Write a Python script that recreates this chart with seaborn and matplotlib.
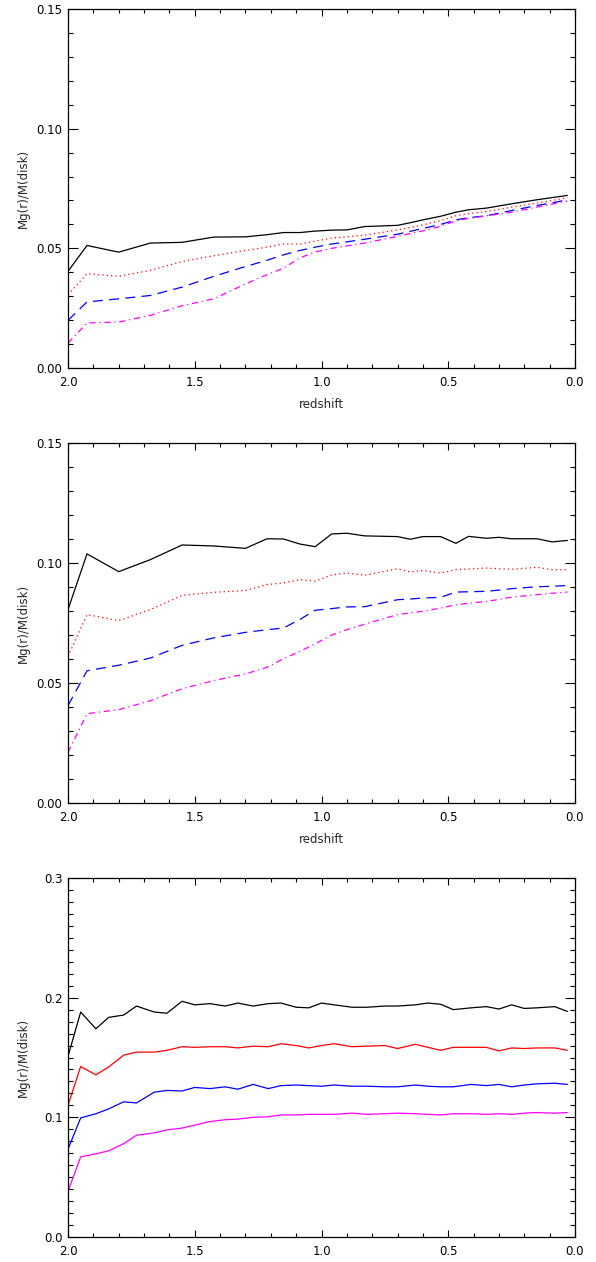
import numpy as np
import pandas as pd
import matplotlib
matplotlib.use("Agg")
import matplotlib.pyplot as plt
import seaborn as sns
from matplotlib.ticker import MultipleLocator

# ---------------- data ----------------
# redshift grid for panels 1 and 2
z_a = [2.0, 1.925, 1.80, 1.675, 1.55, 1.425, 1.30, 1.215, 1.15, 1.085, 1.025,
       0.96, 0.90, 0.83, 0.70, 0.65, 0.60, 0.53, 0.47, 0.42, 0.35, 0.30, 0.25,
       0.15, 0.09, 0.03]

p1_black = [0.0404, 0.0512, 0.0484, 0.0522, 0.0525, 0.0547, 0.0548, 0.0557, 0.0566,
            0.0566, 0.0572, 0.0576, 0.0577, 0.0591, 0.0596, 0.0607, 0.0619, 0.0634,
            0.0651, 0.0661, 0.0668, 0.0677, 0.0686, 0.0703, 0.0712, 0.0721]
p1_red = [0.0306, 0.0394, 0.0383, 0.0408, 0.0445, 0.0469, 0.0491, 0.0505, 0.0518,
          0.0518, 0.0530, 0.0543, 0.0548, 0.0555, 0.0577, 0.0587, 0.0598, 0.0616,
          0.0636, 0.0645, 0.0654, 0.0663, 0.0672, 0.0689, 0.0700, 0.0712]
p1_blue = [0.0199, 0.0276, 0.0289, 0.0303, 0.0338, 0.0383, 0.0424, 0.0450, 0.0473,
           0.0491, 0.0505, 0.0518, 0.0527, 0.0538, 0.0559, 0.0571, 0.0583, 0.0600,
           0.0619, 0.0628, 0.0636, 0.0647, 0.0658, 0.0679, 0.0690, 0.0703]
p1_magenta = [0.0104, 0.0188, 0.0192, 0.0220, 0.0260, 0.0289, 0.0351, 0.0390, 0.0417,
              0.0460, 0.0485, 0.0500, 0.0510, 0.0522, 0.0550, 0.0562, 0.0573, 0.0592,
              0.0615, 0.0625, 0.0636, 0.0643, 0.0651, 0.0672, 0.0685, 0.0698]

p2_black = [0.0806, 0.1038, 0.0964, 0.1014, 0.1075, 0.1071, 0.1061, 0.1101, 0.1100,
            0.1079, 0.1068, 0.1121, 0.1124, 0.1113, 0.1110, 0.1099, 0.1110, 0.1110,
            0.1082, 0.1111, 0.1103, 0.1107, 0.1101, 0.1101, 0.1088, 0.1094]
p2_red = [0.0611, 0.0785, 0.0760, 0.0806, 0.0865, 0.0878, 0.0885, 0.0910, 0.0917,
          0.0931, 0.0924, 0.0950, 0.0958, 0.0949, 0.0976, 0.0963, 0.0969, 0.0958,
          0.0972, 0.0975, 0.0979, 0.0976, 0.0974, 0.0982, 0.0972, 0.0972]
p2_blue = [0.0406, 0.0551, 0.0574, 0.0604, 0.0657, 0.0688, 0.0711, 0.0722, 0.0729,
           0.0765, 0.0803, 0.0810, 0.0817, 0.0818, 0.0847, 0.0850, 0.0854, 0.0857,
           0.0879, 0.0880, 0.0882, 0.0887, 0.0893, 0.0901, 0.0903, 0.0906]
p2_magenta = [0.0211, 0.0372, 0.0389, 0.0426, 0.0476, 0.0510, 0.0538, 0.0565, 0.0601,
              0.0632, 0.0663, 0.0700, 0.0722, 0.0745, 0.0785, 0.0792, 0.0799, 0.0812,
              0.0826, 0.0832, 0.0840, 0.0848, 0.0858, 0.0868, 0.0874, 0.0879]

# redshift grid for panel 3
z_b = [2.0, 1.95, 1.89, 1.84, 1.78, 1.73, 1.66, 1.61, 1.55, 1.50, 1.44, 1.38,
       1.33, 1.27, 1.21, 1.16, 1.10, 1.05, 1.00, 0.95, 0.88, 0.82, 0.75, 0.70,
       0.63, 0.58, 0.53, 0.48, 0.41, 0.35, 0.30, 0.25, 0.20, 0.15, 0.08, 0.03]

p3_black = [0.151, 0.188, 0.174, 0.1835, 0.1855, 0.193, 0.188, 0.187, 0.197, 0.194,
            0.195, 0.193, 0.1955, 0.193, 0.195, 0.1955, 0.192, 0.1915, 0.1955, 0.194,
            0.192, 0.192, 0.193, 0.193, 0.194, 0.1955, 0.1945, 0.190, 0.1915, 0.1925,
            0.1905, 0.194, 0.191, 0.1915, 0.1925, 0.1885]
p3_red = [0.110, 0.1425, 0.1355, 0.142, 0.152, 0.1545, 0.1545, 0.156, 0.159, 0.1585,
          0.159, 0.159, 0.158, 0.1595, 0.159, 0.1615, 0.160, 0.158, 0.160, 0.1615,
          0.159, 0.1595, 0.160, 0.1575, 0.161, 0.1585, 0.156, 0.1585, 0.1585, 0.1585,
          0.1555, 0.158, 0.1575, 0.158, 0.158, 0.156]
p3_blue = [0.0734, 0.0995, 0.103, 0.107, 0.113, 0.112, 0.121, 0.1225, 0.122, 0.125,
           0.124, 0.1255, 0.1235, 0.1275, 0.124, 0.1265, 0.127, 0.1265, 0.126, 0.127,
           0.126, 0.126, 0.1255, 0.1255, 0.127, 0.126, 0.1255, 0.1255, 0.1275, 0.1265,
           0.1275, 0.1255, 0.127, 0.128, 0.1285, 0.1275]
p3_magenta = [0.038, 0.067, 0.0695, 0.072, 0.078, 0.085, 0.087, 0.0895, 0.091, 0.0935,
              0.0965, 0.098, 0.0985, 0.100, 0.1005, 0.102, 0.102, 0.1025, 0.1025, 0.1025,
              0.1035, 0.1025, 0.103, 0.1035, 0.103, 0.1025, 0.102, 0.103, 0.103, 0.1025,
              0.103, 0.1025, 0.1035, 0.104, 0.1035, 0.104]

x_ticks = [2.0, 1.5, 1.0, 0.5, 0.0]
x_ticklabels = ["2.0", "1.5", "1.0", "0.5", "0.0"]
y_ticks_a = [0.00, 0.05, 0.10, 0.15]
y_ticklabels_a = ["0.00", "0.05", "0.10", "0.15"]
y_ticks_b = [0.0, 0.1, 0.2, 0.3]
y_ticklabels_b = ["0.0", "0.1", "0.2", "0.3"]

ylabel = "Mg(r)/M(disk)"
xlabel = "redshift"

# ---------------- style ----------------
sns.set_style("ticks")
plt.rcParams['font.family'] = ['DejaVu Sans']

W, H = 596, 1262
fig = plt.figure(figsize=(W / 100, H / 100), dpi=100)

def axrect(top, bottom, left=68, right=575):
    return [left / W, 1 - bottom / H, (right - left) / W, (bottom - top) / H]

dotted = (0, (1, 2.5))
dashed = (0, (8, 5))
dashdot = (0, (5, 3, 1, 3))

panels = [
    dict(rect=axrect(9, 368), z=z_a,
         series=[(p1_black, "black", "-"), (p1_red, "red", dotted),
                 (p1_blue, "blue", dashed), (p1_magenta, "magenta", dashdot)],
         ylim=(0, 0.15), yt=y_ticks_a, ytl=y_ticklabels_a, ymin=0.01, xl=True),
    dict(rect=axrect(443, 803), z=z_a,
         series=[(p2_black, "black", "-"), (p2_red, "red", dotted),
                 (p2_blue, "blue", dashed), (p2_magenta, "magenta", dashdot)],
         ylim=(0, 0.15), yt=y_ticks_a, ytl=y_ticklabels_a, ymin=0.01, xl=True),
    dict(rect=axrect(878, 1237), z=z_b,
         series=[(p3_black, "black", "-"), (p3_red, "red", "-"),
                 (p3_blue, "blue", "-"), (p3_magenta, "magenta", "-")],
         ylim=(0, 0.3), yt=y_ticks_b, ytl=y_ticklabels_b, ymin=0.01, xl=False),
]

for p in panels:
    ax = fig.add_axes(p["rect"])
    for vals, col, ls in p["series"]:
        df = pd.DataFrame({"z": p["z"], "v": vals})
        sns.lineplot(data=df, x="z", y="v", ax=ax, color=col, linewidth=0.9,
                     estimator=None, sort=False, legend=False)
        ax.lines[-1].set_linestyle(ls)
    ax.set_xlim(2.0, 0.0)
    ax.set_ylim(*p["ylim"])
    ax.set_xticks(x_ticks)
    ax.set_xticklabels(x_ticklabels)
    ax.set_yticks(p["yt"])
    ax.set_yticklabels(p["ytl"])
    ax.xaxis.set_minor_locator(MultipleLocator(0.1))
    ax.yaxis.set_minor_locator(MultipleLocator(p["ymin"]))
    ax.tick_params(which="both", direction="in", top=True, right=True,
                   width=0.8, colors="black", labelsize=8.5)
    ax.tick_params(axis="y", which="major", length=7, pad=4)
    ax.tick_params(axis="y", which="minor", length=3.8)
    ax.tick_params(axis="x", which="major", length=5, pad=6)
    ax.tick_params(axis="x", which="minor", length=3)
    for s in ax.spines.values():
        s.set_linewidth(0.9)
        s.set_color("black")
    ax.set_ylabel(ylabel, fontsize=8.5)
    ax.yaxis.set_label_coords(-0.075, 0.5)
    if p["xl"]:
        ax.set_xlabel(xlabel, fontsize=8.5)
        ax.xaxis.set_label_coords(0.5, -0.083)
    else:
        ax.set_xlabel("")
    ax.set_facecolor("white")

fig.savefig("out.png", dpi=100, facecolor="white")
